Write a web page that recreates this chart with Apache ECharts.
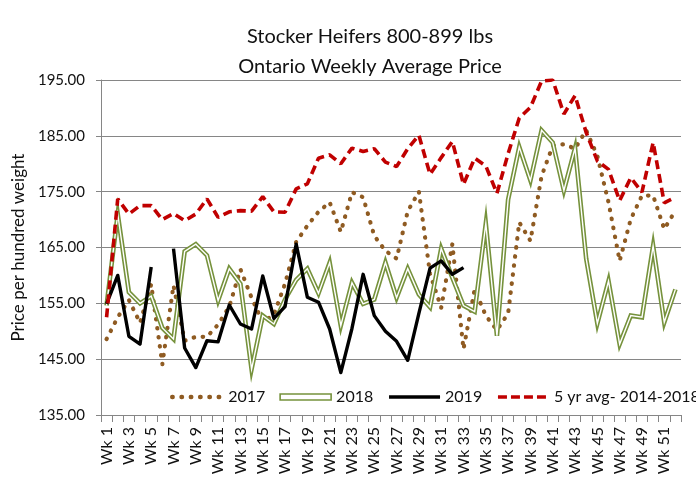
<!DOCTYPE html>
<html>
<head>
<meta charset="utf-8">
<script src="https://cdn.jsdelivr.net/npm/echarts@6/dist/echarts.min.js"></script>
<style>
html,body{margin:0;padding:0;background:#fff;}
#chart{width:696px;height:489px;}
</style>
</head>
<body>
<div id="chart"></div>
<script>
// ---- data ----
var weeks = [];
for (var w = 1; w <= 52; w++) weeks.push('Wk ' + w);

var y2017 = [148.6,152.5,155.6,151.5,158.4,144.1,158.2,148.3,149.0,149.0,
             151.2,154.4,161.1,156.0,151.6,153.0,158.5,166.0,168.9,171.4,
             173.1,167.8,174.9,174.0,167.1,164.4,163.0,171.5,175.0,160.3,
             154.2,165.6,146.8,157.5,152.8,150.2,153.2,169.5,166.2,177.8,
             183.2,183.5,182.7,186.0,181.4,173.1,162.6,170.1,174.3,174.3,
             168.3,171.6];
var y2018 = [154.6,171.0,157.0,155.0,156.3,150.6,148.6,164.3,165.6,163.6,
             155.5,161.2,158.5,143.2,152.8,151.3,155.7,159.2,161.2,156.8,
             162.3,151.0,158.7,154.9,155.7,162.3,156.0,161.2,156.6,154.3,
             164.8,159.6,154.6,153.5,169.3,149.2,173.6,183.0,177.0,186.0,
             183.8,175.2,182.8,163.0,151.4,159.0,147.7,152.8,152.5,165.3,
             151.6,157.5];
var y2019 = [154.9,160.0,149.1,147.7,161.5,null,164.8,147.0,143.5,148.3,
             148.1,154.7,151.3,150.4,159.9,152.3,154.4,165.6,156.1,155.2,
             150.4,142.6,150.5,160.2,152.8,150.0,148.2,144.8,153.2,161.3,
             162.6,160.2,161.4];
var y5yr  = [152.5,173.7,171.0,172.5,172.5,170.0,171.1,169.8,171.0,173.7,
             170.4,171.4,171.6,171.5,174.1,171.4,171.3,175.5,176.4,181.0,
             181.6,180.0,182.8,182.2,182.7,180.3,179.5,182.7,185.1,178.1,
             181.1,184.0,176.3,181.0,179.6,174.7,181.8,188.2,190.1,194.8,
             195.0,188.9,192.2,185.6,180.5,179.0,173.4,177.5,174.9,183.8,
             173.0,174.0];
var yTicks = { min: 135, max: 195, step: 10 };
var seriesNames = ['2017', '2018', '2019', '5 yr avg- 2014-2018'];

// ---- chart ----
var FONT = 'Lato';
var BROWN = '#8F5B22', OLIVE = '#76923C', RED = '#C00000';
var chart = echarts.init(document.getElementById('chart'), null, { renderer: 'canvas' });
var hideSym = { opacity: 0 };
var option = {
  animation: false,
  backgroundColor: '#ffffff',
  title: {
    text: 'Stocker Heifers 800-899 lbs\nOntario Weekly Average Price',
    left: 365,
    top: 17,
    textAlign: 'center',
    textStyle: { fontFamily: FONT, fontSize: 20, fontWeight: 'normal', color: '#111', lineHeight: 30 }
  },
  grid: { left: 101, right: 15, top: 80, bottom: 74 },
  legend: {
    left: 170,
    top: 389,
    padding: 0,
    width: 600,
    itemWidth: 51,
    itemHeight: 6,
    itemGap: 14,
    textStyle: { fontFamily: FONT, fontSize: 16, color: '#111' },
    data: [
      { name: seriesNames[0], itemStyle: hideSym,
        lineStyle: { color: BROWN, width: 4.4, type: [0.5, 8.8], cap: 'round' } },
      { name: seriesNames[1], icon: 'rect', itemStyle: { color: '#ffffff', borderColor: OLIVE, borderWidth: 1.6 } },
      { name: seriesNames[2], itemStyle: hideSym,
        lineStyle: { color: '#000', width: 3.6 } },
      { name: seriesNames[3], itemStyle: hideSym,
        lineStyle: { color: RED, width: 3.6, type: [9, 4] } }
    ]
  },
  xAxis: {
    type: 'category',
    data: weeks,
    boundaryGap: true,
    axisLine: { lineStyle: { color: '#868686', width: 1 } },
    axisTick: { show: true, interval: 0, length: 7, lineStyle: { color: '#868686' } },
    axisLabel: { interval: 1, rotate: 90, margin: 12, fontFamily: FONT, fontSize: 16, color: '#111' },
    splitLine: { show: false }
  },
  yAxis: {
    type: 'value',
    min: yTicks.min,
    max: yTicks.max,
    interval: yTicks.step,
    name: 'Price per hundred weight',
    nameLocation: 'middle',
    nameGap: 72,
    nameTextStyle: { fontFamily: FONT, fontSize: 17, color: '#111' },
    axisLine: { show: true, lineStyle: { color: '#868686', width: 1 } },
    axisTick: { show: true, length: 5, lineStyle: { color: '#868686' } },
    axisLabel: { margin: 16, fontFamily: FONT, fontSize: 15, color: '#111',
                 formatter: function (v) { return v.toFixed(2); } },
    splitLine: { show: true, lineStyle: { color: '#868686', width: 1 } }
  },
  series: [
    {
      name: seriesNames[0], type: 'line', data: y2017, symbol: 'none',
      itemStyle: { color: BROWN },
      lineStyle: { color: BROWN, width: 4.2, type: [0.5, 8.6], cap: 'round', join: 'round' }
    },
    {
      name: seriesNames[1], type: 'line', data: y2018, symbol: 'none',
      itemStyle: { color: OLIVE },
      lineStyle: { color: OLIVE, width: 4.6, join: 'miter' }
    },
    {
      name: '2018 inner', type: 'line', data: y2018, symbol: 'none', silent: true,
      itemStyle: { color: '#ffffff' },
      lineStyle: { color: '#ffffff', width: 1.4, join: 'miter' }
    },
    {
      name: seriesNames[2], type: 'line', data: y2019, symbol: 'none', connectNulls: false,
      itemStyle: { color: '#000000' },
      lineStyle: { color: '#000000', width: 3.4, join: 'round' }
    },
    {
      name: seriesNames[3], type: 'line', data: y5yr, symbol: 'none',
      itemStyle: { color: RED },
      lineStyle: { color: RED, width: 3.6, type: [9, 5] }
    }
  ]
};
chart.setOption(option);
</script>
</body>
</html>
